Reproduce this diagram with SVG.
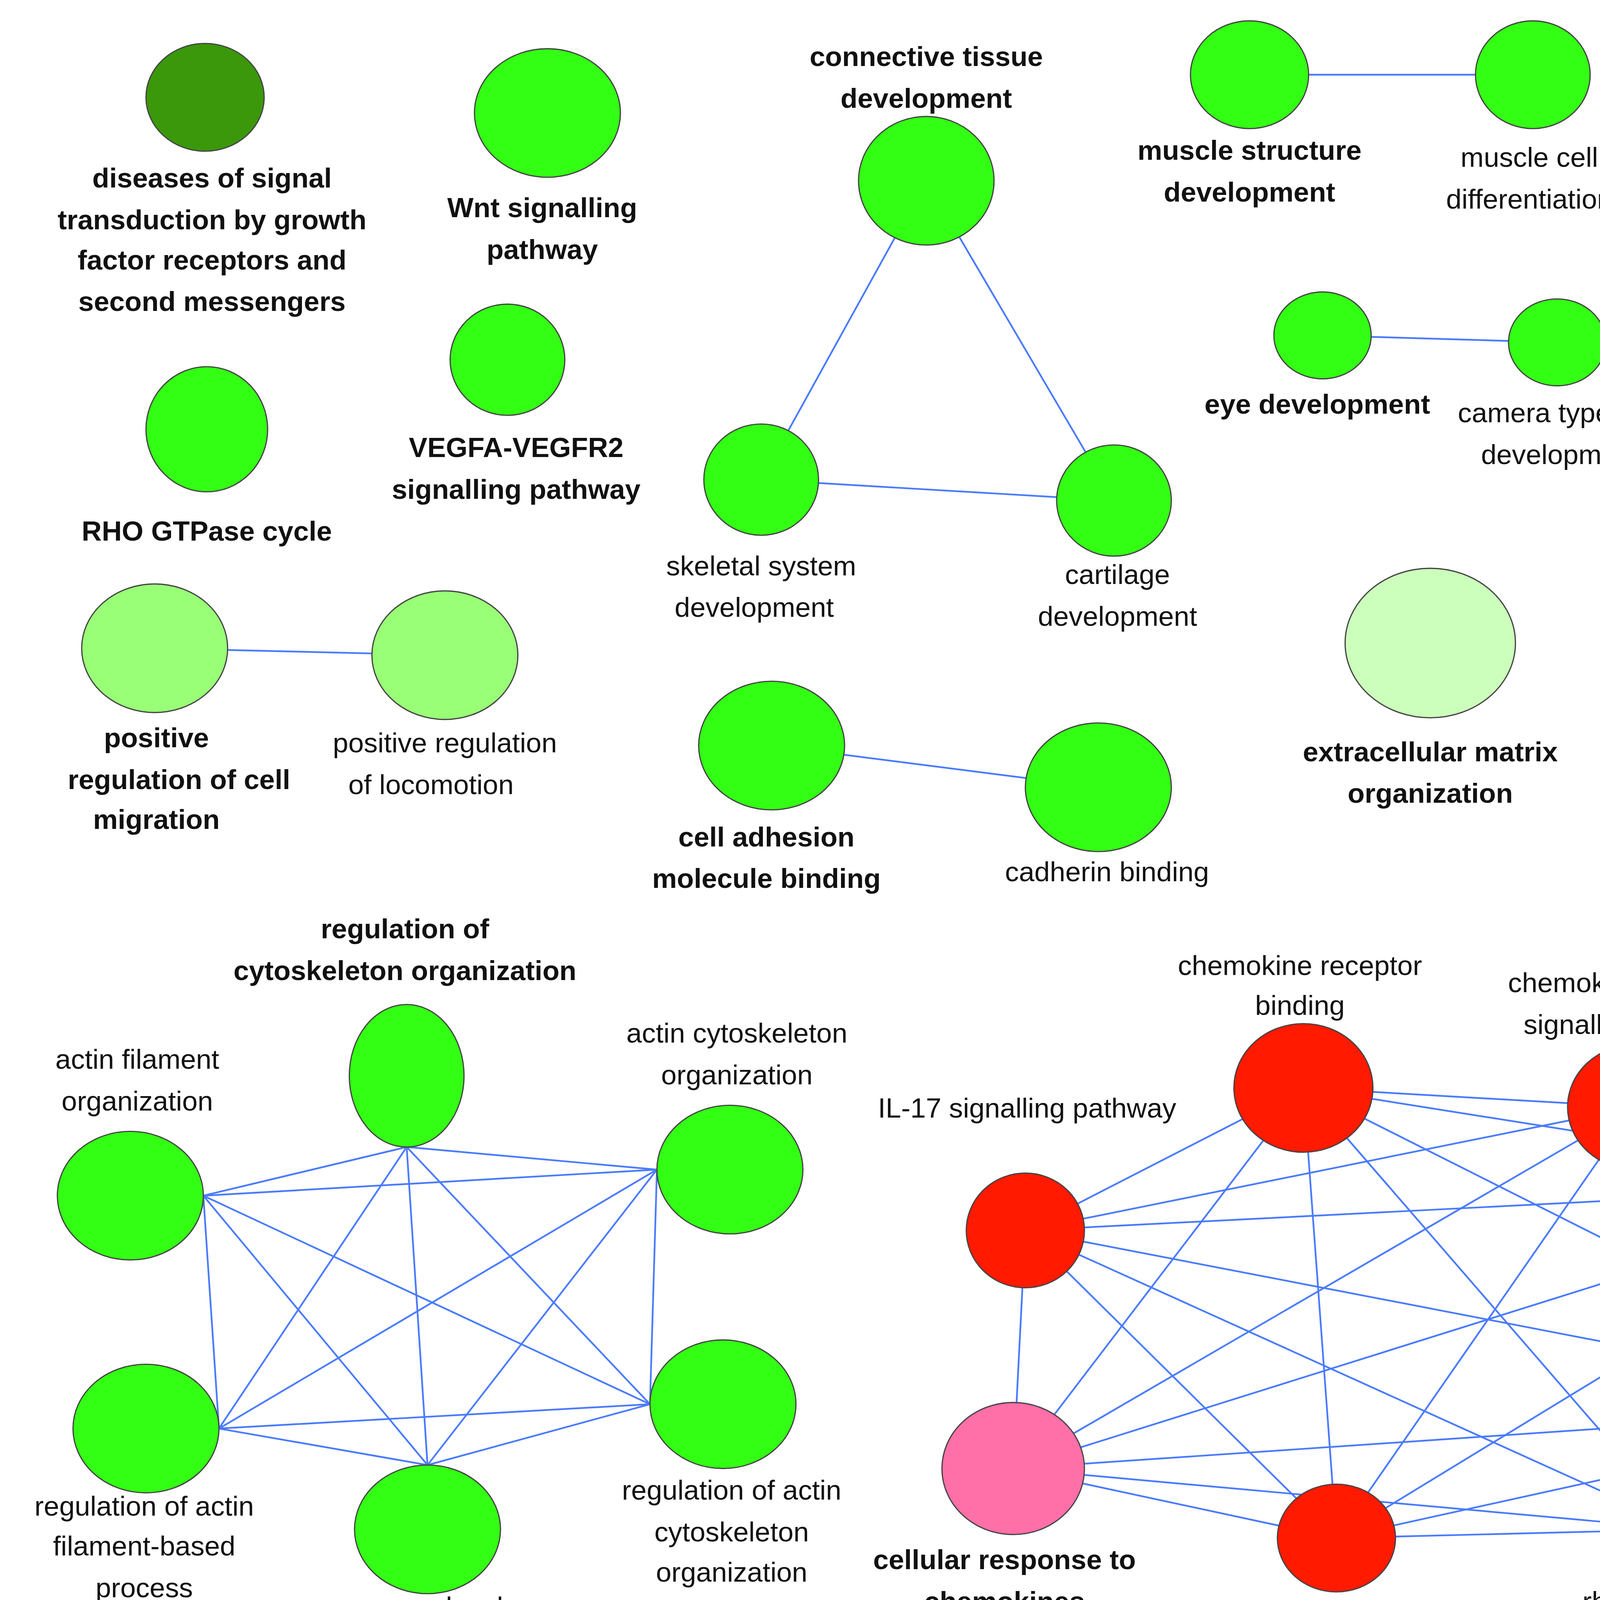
<svg xmlns="http://www.w3.org/2000/svg" width="6941" height="4347" viewBox="0 0 6941 4347">
<style>
.n{stroke:#444;stroke-width:0.7}
.g{fill:#33ff14}.dg{fill:#3a980a}.lg{fill:#99ff77}.pg{fill:#ccffbb}
.r{fill:#ff1a00}.m{fill:#ff2a4a}.p{fill:#ff6fa8}
text{font-family:"Liberation Sans",Arial,sans-serif;font-size:16px;fill:#111;text-anchor:middle}
.b{font-weight:bold}
#edges line{stroke:#4a7bff;stroke-width:1}
</style>
<rect width="6941" height="4347" fill="#fff"/>
<g transform="scale(4.449)">
<g id="edges">
<line x1="438" y1="276" x2="533" y2="104"/><line x1="641" y1="288" x2="533" y2="104"/><line x1="438" y1="276" x2="641" y2="288"/>
<line x1="719" y1="43" x2="882" y2="43"/><line x1="761" y1="193" x2="896" y2="197"/>
<line x1="1104" y1="46" x2="1281" y2="64"/><line x1="1482" y1="113" x2="1469" y2="208"/>
<line x1="1099" y1="192" x2="1245" y2="200"/><line x1="89" y1="373" x2="256" y2="377"/>
<line x1="444" y1="429" x2="632" y2="453"/>
<line x1="1085" y1="391" x2="1005" y2="470"/><line x1="1085" y1="391" x2="1165" y2="478"/><line x1="1005" y1="470" x2="1165" y2="478"/>
<line x1="1352" y1="357" x2="1314" y2="459"/><line x1="1352" y1="357" x2="1486" y2="458"/>
<line x1="234" y1="660" x2="117" y2="688"/><line x1="234" y1="660" x2="378" y2="673"/><line x1="234" y1="660" x2="126" y2="822"/><line x1="234" y1="660" x2="246" y2="843"/><line x1="234" y1="660" x2="374" y2="808"/>
<line x1="117" y1="688" x2="378" y2="673"/><line x1="117" y1="688" x2="126" y2="822"/><line x1="117" y1="688" x2="246" y2="843"/><line x1="117" y1="688" x2="374" y2="808"/>
<line x1="378" y1="673" x2="126" y2="822"/><line x1="378" y1="673" x2="246" y2="843"/><line x1="378" y1="673" x2="374" y2="808"/>
<line x1="126" y1="822" x2="246" y2="843"/><line x1="126" y1="822" x2="374" y2="808"/><line x1="246" y1="843" x2="374" y2="808"/>
<line x1="750" y1="626" x2="941" y2="637"/><line x1="750" y1="626" x2="590" y2="708"/><line x1="750" y1="626" x2="1102" y2="682"/><line x1="750" y1="626" x2="583" y2="845"/><line x1="750" y1="626" x2="769" y2="885"/><line x1="750" y1="626" x2="970" y2="880"/><line x1="750" y1="626" x2="1114" y2="809"/>
<line x1="941" y1="637" x2="590" y2="708"/><line x1="941" y1="637" x2="1102" y2="682"/><line x1="941" y1="637" x2="583" y2="845"/><line x1="941" y1="637" x2="769" y2="885"/><line x1="941" y1="637" x2="970" y2="880"/><line x1="941" y1="637" x2="1114" y2="809"/>
<line x1="590" y1="708" x2="1102" y2="682"/><line x1="590" y1="708" x2="583" y2="845"/><line x1="590" y1="708" x2="769" y2="885"/><line x1="590" y1="708" x2="970" y2="880"/><line x1="590" y1="708" x2="1114" y2="809"/>
<line x1="1102" y1="682" x2="583" y2="845"/><line x1="1102" y1="682" x2="769" y2="885"/><line x1="1102" y1="682" x2="970" y2="880"/><line x1="1102" y1="682" x2="1114" y2="809"/>
<line x1="583" y1="845" x2="769" y2="885"/><line x1="583" y1="845" x2="970" y2="880"/><line x1="583" y1="845" x2="1114" y2="809"/>
<line x1="769" y1="885" x2="970" y2="880"/><line x1="769" y1="885" x2="1114" y2="809"/><line x1="970" y1="880" x2="1114" y2="809"/>
<line x1="1380" y1="659" x2="1249" y2="716"/><line x1="1380" y1="659" x2="1514" y2="723"/><line x1="1380" y1="659" x2="1384" y2="797"/><line x1="1249" y1="716" x2="1514" y2="723"/><line x1="1249" y1="716" x2="1384" y2="797"/><line x1="1514" y1="723" x2="1384" y2="797"/>
</g>
<g id="n1"><ellipse class="n dg" cx="118" cy="56" rx="34" ry="31"/><text class="b" x="122" y="108">diseases of signal</text><text class="b" x="122" y="132">transduction by growth</text><text class="b" x="122" y="155">factor receptors and</text><text class="b" x="122" y="179">second messengers</text></g>
<g id="n2"><ellipse class="n g" cx="315" cy="65" rx="42" ry="37"/><text class="b" x="312" y="125">Wnt signalling</text><text class="b" x="312" y="149">pathway</text></g>
<g id="n3"><ellipse class="n g" cx="292" cy="207" rx="33" ry="32"/><text class="b" x="297" y="263">VEGFA-VEGFR2</text><text class="b" x="297" y="287">signalling pathway</text></g>
<g id="n4"><ellipse class="n g" cx="119" cy="247" rx="35" ry="36"/><text class="b" x="119" y="311">RHO GTPase cycle</text></g>
<g id="n5"><ellipse class="n g" cx="533" cy="104" rx="39" ry="37"/><text class="b" x="533" y="38">connective tissue</text><text class="b" x="533" y="62">development</text></g>
<g id="n6"><ellipse class="n g" cx="438" cy="276" rx="33" ry="32"/><text x="438" y="331">skeletal system</text><text x="434" y="355">development</text></g>
<g id="n7"><ellipse class="n g" cx="641" cy="288" rx="33" ry="32"/><text x="643" y="336">cartilage</text><text x="643" y="360">development</text></g>
<g id="n8"><ellipse class="n g" cx="719" cy="43" rx="34" ry="31"/><text class="b" x="719" y="92">muscle structure</text><text class="b" x="719" y="116">development</text></g>
<g id="n9"><ellipse class="n g" cx="882" cy="43" rx="33" ry="31"/><text x="880" y="96">muscle cell</text><text x="880" y="120">differentiation</text></g>
<g id="n10"><ellipse class="n g" cx="761" cy="193" rx="28" ry="25"/><text class="b" x="758" y="238">eye development</text></g>
<g id="n11"><ellipse class="n g" cx="896" cy="197" rx="28" ry="25"/><text x="898" y="243">camera type eye</text><text x="898" y="267">development</text></g>
<g id="n12"><ellipse class="n g" cx="1104" cy="46" rx="34" ry="32"/><text class="b" x="1102" y="93">negative regulation of</text><text class="b" x="1102" y="117">developmental</text><text class="b" x="1102" y="141">process</text></g>
<g id="n13"><ellipse class="n g" cx="1281" cy="64" rx="34" ry="32"/><text x="1281" y="111">negative regulation of cell</text><text x="1281" y="135">differentiation</text></g>
<g id="n14"><ellipse class="n pg" cx="1482" cy="113" rx="42" ry="37"/><text class="b" x="1468" y="46">renal system</text><text class="b" x="1468" y="70">development</text></g>
<g id="n15"><ellipse class="n pg" cx="1469" cy="208" rx="38" ry="33"/><text x="1466" y="259">urogenital system</text><text x="1466" y="283">development</text></g>
<g id="n16"><ellipse class="n g" cx="1099" cy="192" rx="34" ry="32"/><text class="b" x="1100" y="244">regulation of</text><text class="b" x="1100" y="268">anatomical</text><text class="b" x="1100" y="291">structure sizes</text></g>
<g id="n17"><ellipse class="n g" cx="1245" cy="200" rx="33" ry="32"/><text x="1247" y="250">regulation of</text><text x="1247" y="274">cellular</text><text x="1247" y="298">component size</text></g>
<g id="n18"><ellipse class="n pg" cx="823" cy="370" rx="49" ry="43"/><text class="b" x="823" y="438">extracellular matrix</text><text class="b" x="823" y="462">organization</text></g>
<g id="n19"><ellipse class="n lg" cx="89" cy="373" rx="42" ry="37"/><text class="b" x="90" y="430">positive</text><text class="b" x="103" y="454">regulation of cell</text><text class="b" x="90" y="477">migration</text></g>
<g id="n20"><ellipse class="n lg" cx="256" cy="377" rx="42" ry="37"/><text x="256" y="433">positive regulation</text><text x="248" y="457">of locomotion</text></g>
<g id="n21"><ellipse class="n g" cx="444" cy="429" rx="42" ry="37"/><text class="b" x="441" y="487">cell adhesion</text><text class="b" x="441" y="511">molecule binding</text></g>
<g id="n22"><ellipse class="n g" cx="632" cy="453" rx="42" ry="37"/><text x="637" y="507">cadherin binding</text></g>
<g id="n23"><ellipse class="n g" cx="1085" cy="391" rx="34" ry="32"/><text class="b" x="1084" y="331">regulation of mitotic cell</text><text class="b" x="1080" y="355">cycle phase transition</text></g>
<g id="n24"><ellipse class="n g" cx="1005" cy="470" rx="28" ry="25"/><text x="1001" y="513">negative regulation</text><text x="995" y="537">of cell cycle</text></g>
<g id="n25"><ellipse class="n g" cx="1165" cy="478" rx="28" ry="25"/><text x="1163" y="524">regulation of</text><text x="1163" y="548">cell cycle transition</text></g>
<g id="n26"><ellipse class="n lg" cx="1352" cy="357" rx="42" ry="37"/><text class="b" x="1456" y="339">regulation of cell</text><text class="b" x="1456" y="363">projection</text><text class="b" x="1456" y="387">organization</text></g>
<g id="n27"><ellipse class="n lg" cx="1314" cy="459" rx="35" ry="34"/><text x="1318" y="503">regulation of</text><text x="1318" y="527">neuron projection</text><text x="1318" y="551">development</text></g>
<g id="n28"><ellipse class="n lg" cx="1486" cy="458" rx="35" ry="32"/><text x="1482" y="504">positive regulation</text><text x="1482" y="528">of cell projection</text><text x="1482" y="552">organization</text></g>
<g id="n29"><ellipse class="n g" cx="234" cy="619" rx="33" ry="41"/><text class="b" x="233" y="540">regulation of</text><text class="b" x="233" y="564">cytoskeleton organization</text></g>
<g id="n30"><ellipse class="n g" cx="75" cy="688" rx="42" ry="37"/><text x="79" y="615">actin filament</text><text x="79" y="639">organization</text></g>
<g id="n31"><ellipse class="n g" cx="420" cy="673" rx="42" ry="37"/><text x="424" y="600">actin cytoskeleton</text><text x="424" y="624">organization</text></g>
<g id="n32"><ellipse class="n g" cx="84" cy="822" rx="42" ry="37"/><text x="83" y="872">regulation of actin</text><text x="83" y="895">filament-based</text><text x="83" y="919">process</text></g>
<g id="n33"><ellipse class="n g" cx="246" cy="880" rx="42" ry="37"/><text x="249" y="930">supramolecular</text><text x="249" y="954">fiber organization</text></g>
<g id="n34"><ellipse class="n g" cx="416" cy="808" rx="42" ry="37"/><text x="421" y="863">regulation of actin</text><text x="421" y="887">cytoskeleton</text><text x="421" y="910">organization</text></g>
<g id="n35"><ellipse class="n r" cx="750" cy="626" rx="40" ry="37"/><text x="748" y="561">chemokine receptor</text><text x="748" y="584">binding</text></g>
<g id="n36"><ellipse class="n r" cx="941" cy="637" rx="39" ry="36"/><text x="942" y="571">chemokine-mediated</text><text x="942" y="595">signalling pathway</text></g>
<g id="n37"><ellipse class="n r" cx="590" cy="708" rx="34" ry="33"/><text x="591" y="643">IL-17 signalling pathway</text></g>
<g id="n38"><ellipse class="n m" cx="1102" cy="682" rx="36" ry="34"/><text x="1104" y="619">neutrophil</text><text x="1104" y="643">migration</text></g>
<g id="n39"><ellipse class="n p" cx="583" cy="845" rx="41" ry="38"/><text class="b" x="578" y="903">cellular response to</text><text class="b" x="578" y="927">chemokines</text></g>
<g id="n40"><ellipse class="n r" cx="769" cy="885" rx="34" ry="31"/><text x="769" y="935">proinflammatory and</text><text x="769" y="959">profibrotic mediators</text></g>
<g id="n41"><ellipse class="n r" cx="970" cy="880" rx="34" ry="31"/><text x="979" y="927">rheumatoid arthritis</text></g>
<g id="n42"><ellipse class="n m" cx="1114" cy="809" rx="34" ry="31"/><text x="1114" y="856">granulocyte</text><text x="1114" y="880">chemotaxis</text></g>
<g id="n43"><ellipse class="n r" cx="1380" cy="659" rx="34" ry="32"/><text x="1383" y="595">systemic lupus</text><text x="1383" y="618">erythematosus</text></g>
<g id="n44"><ellipse class="n r" cx="1249" cy="716" rx="34" ry="32"/><text x="1245" y="769">HATs acetylate histones</text></g>
<g id="n45"><ellipse class="n r" cx="1514" cy="723" rx="34" ry="32"/><text x="1516" y="806">HCMV</text><text x="1516" y="830">infection</text></g>
<g id="n46"><ellipse class="n r" cx="1384" cy="797" rx="42" ry="37"/><text class="b" x="1364" y="852">HDACs deacetylate</text><text class="b" x="1364" y="876">histones</text></g>
<g id="legend"><circle class="n g" cx="1055" cy="957" r="13"/><text x="1072" y="962" style="text-anchor:start">downregulated networks</text><circle class="n r" cx="1323" cy="957" r="13"/><text x="1341" y="962" style="text-anchor:start">upregulated networks</text></g>
</g>
</svg>
